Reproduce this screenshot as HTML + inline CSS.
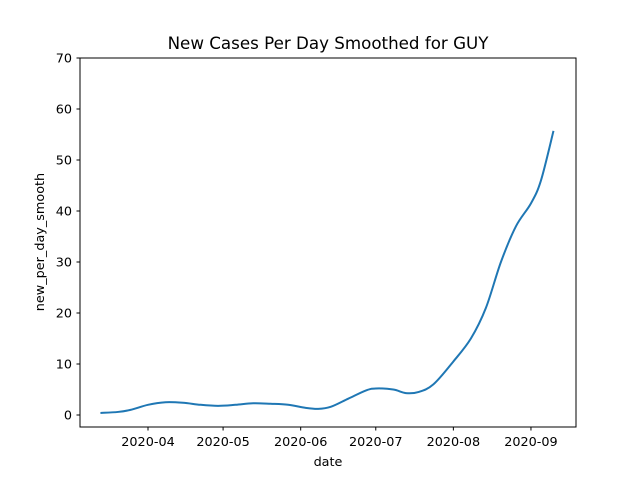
<!DOCTYPE html>
<html><head><meta charset="utf-8"><style>
body{margin:0;background:#fff;font-family:"DejaVu Sans","Liberation Sans",sans-serif}
</style></head><body>
<svg width="640" height="480" xmlns="http://www.w3.org/2000/svg" font-family="DejaVu Sans, Liberation Sans, sans-serif">
<rect width="640" height="480" fill="#fff"/>
<text x="328" y="49" font-size="16.7" text-anchor="middle">New Cases Per Day Smoothed for GUY</text>
<g id="ticks" font-size="12.8" fill="#000"></g>
<path id="line" fill="none" stroke="#1f77b4" stroke-width="2"/>
<rect x="80" y="58" width="496" height="369" fill="none" stroke="#000" stroke-width="1"/>
<text x="328" y="466" font-size="12.8" text-anchor="middle">date</text>
<text x="44" y="242" font-size="12.8" text-anchor="middle" transform="rotate(-90 44 242)">new_per_day_smooth</text>
</svg>
<script>
const dates=["2020-03-13","2020-03-20","2020-03-25","2020-04-01","2020-04-08","2020-04-15","2020-04-22","2020-04-29","2020-05-06","2020-05-13","2020-05-20","2020-05-27","2020-06-03","2020-06-08","2020-06-13","2020-06-20","2020-06-27","2020-07-01","2020-07-08","2020-07-13","2020-07-18","2020-07-24","2020-08-01","2020-08-08","2020-08-14","2020-08-20","2020-08-26","2020-09-01","2020-09-05","2020-09-10"];
const values=[0.4,0.6,1.0,2.0,2.5,2.4,2.0,1.8,2.0,2.3,2.2,2.0,1.4,1.2,1.6,3.2,4.8,5.2,5.0,4.3,4.5,6.0,10.5,15,21,30,37,41.5,46,55.7];
const xTickLabels=["2020-04","2020-05","2020-06","2020-07","2020-08","2020-09"];
const yTicks=[0,10,20,30,40,50,60,70];
const t0=Date.UTC(2020,3,1),day=86400000;
function xs(d){const t=Date.parse(d+(d.length===7?"-01":"")+"T00:00:00Z");return 148+(t-t0)/day*2.503;}
function ys(v){return 415-v*5.1;}
const NS="http://www.w3.org/2000/svg",g=document.getElementById("ticks");
function mk(tag,a){const e=document.createElementNS(NS,tag);for(const k in a)e.setAttribute(k,a[k]);g.appendChild(e);return e;}
xTickLabels.forEach(l=>{const x=xs(l);
const t=mk("line",{x1:x,x2:x,y1:427,y2:430.5,stroke:"#000"});


const tx=mk("text",{x:x,y:446,"text-anchor":"middle"});tx.textContent=l;

});
yTicks.forEach(v=>{const y=ys(v);
const t=mk("line",{x1:76.5,x2:80,y1:y,y2:y,stroke:"#000"});


const tx=mk("text",{x:72,y:y+4.5,"text-anchor":"end"});tx.textContent=v;

});
const P=dates.map((d,i)=>[xs(d),ys(values[i])]);
let dd="M"+P[0][0]+","+P[0][1];
for(let i=0;i<P.length-1;i++){const p0=P[i-1]||P[i],p1=P[i],p2=P[i+1],p3=P[i+2]||P[i+1];
dd+=" C"+(p1[0]+(p2[0]-p0[0])/6)+","+(p1[1]+(p2[1]-p0[1])/6)+" "+(p2[0]-(p3[0]-p1[0])/6)+","+(p2[1]-(p3[1]-p1[1])/6)+" "+p2[0]+","+p2[1];}
document.getElementById("line").setAttribute("d",dd);
</script>
</body></html>
